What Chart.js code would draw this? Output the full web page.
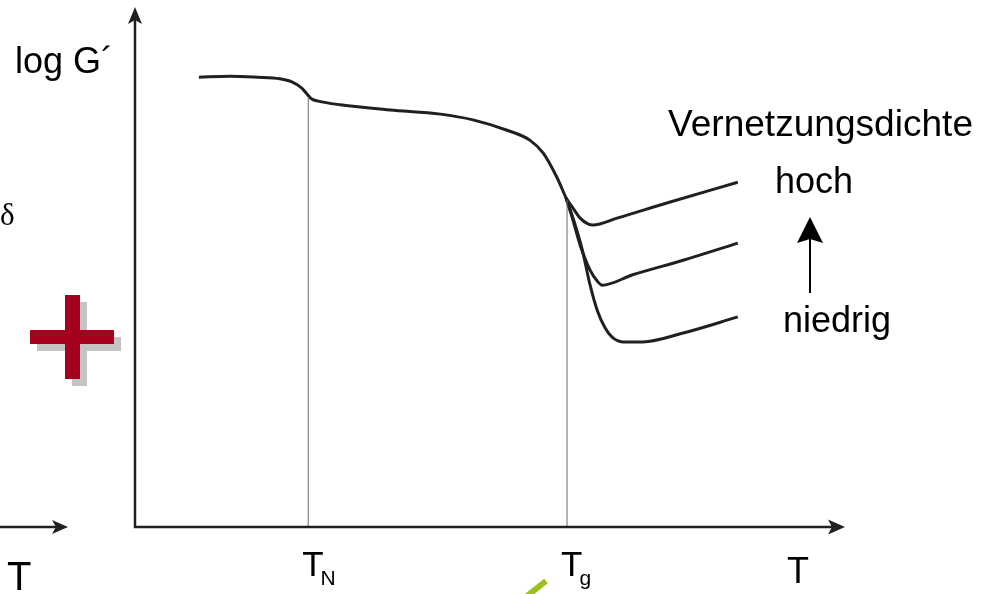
<!DOCTYPE html>
<html>
<head>
<meta charset="utf-8">
<script src="https://cdn.jsdelivr.net/npm/chart.js@4/dist/chart.umd.min.js"></script>
<style>
  html, body { margin: 0; padding: 0; background: #fff; }
  canvas { display: block; }
</style>
</head>
<body>
<canvas id="modulusChart" width="994" height="594"></canvas>
<script>
// temperature (arbitrary units) and log G' (arbitrary units)
const mainT = [9.0, 13.4, 17.2, 20.4, 22.1, 23.5, 24.2, 24.9, 25.8, 28.9, 35.9, 43.0, 47.6, 52.4, 55.6, 57.5, 59.4, 60.7];
const mainG = [86.5, 86.7, 86.5, 86.2, 85.6, 84.4, 83.3, 82.3, 81.9, 81.2, 80.2, 79.4, 78.3, 76.3, 74.4, 71.9, 67.3, 63.3];

const hochT = [60.7, 61.6, 62.7, 63.8, 64.5, 67.9, 74.9, 84.9];
const hochG = [63.3, 61.5, 59.4, 58.3, 58.1, 59.4, 62.3, 66.3];

const mittelT = [60.7, 61.6, 62.7, 64.1, 65.1, 65.8, 70.1, 77.2, 84.9];
const mittelG = [63.3, 59.4, 54.2, 49.4, 47.3, 46.5, 48.5, 51.3, 54.6];

const niedrigT = [60.7, 61.7, 63.0, 64.1, 65.1, 66.2, 67.2, 68.7, 71.5, 77.2, 84.9];
const niedrigG = [63.3, 59.4, 53.3, 46.5, 41.7, 38.3, 36.5, 35.6, 35.6, 37.3, 40.4];

// transition temperatures and where the guide lines meet the curve
const transLabels = ["N", "g"];
const transT = [24.4, 60.85];
const transG = [82.7, 62.9];

const toPoints = (xs, ys) => xs.map((x, i) => ({ x: x, y: ys[i] }));

const curveStyle = {
  borderColor: "#231f20",
  borderWidth: 3,
  pointRadius: 0,
  fill: false,
  cubicInterpolationMode: "monotone",
};

const guideSets = transT.map((t, i) => ({
  data: [{ x: t, y: 0 }, { x: t, y: transG[i] }],
  borderColor: "#6d6a6a",
  borderWidth: 1,
  pointRadius: 0,
  fill: false,
}));

function arrowHead(ctx, x, y, dir, len, half) {
  ctx.beginPath();
  if (dir === "up") {
    ctx.moveTo(x, y);
    ctx.lineTo(x - half, y + len);
    ctx.lineTo(x, y + len - 4);
    ctx.lineTo(x + half, y + len);
  } else {
    ctx.moveTo(x, y);
    ctx.lineTo(x - len, y - half);
    ctx.lineTo(x - len + 4, y);
    ctx.lineTo(x - len, y + half);
  }
  ctx.closePath();
  ctx.fill();
}

function fitText(ctx, text, x, y, size, width) {
  ctx.save();
  ctx.font = size + "px 'Liberation Sans', Arial, sans-serif";
  const w = ctx.measureText(text).width;
  ctx.translate(x, y);
  ctx.scale(width / w, 1);
  ctx.fillText(text, 0, 0);
  ctx.restore();
}

const decorations = {
  id: "decorations",
  afterDatasetsDraw(chart) {
    const ctx = chart.ctx;
    const area = chart.chartArea;
    const xs = chart.scales.x;
    ctx.save();
    ctx.fillStyle = "#231f20";
    ctx.strokeStyle = "#231f20";

    // axes with arrows
    ctx.lineWidth = 2.5;
    ctx.beginPath();
    ctx.moveTo(area.left, area.top + 10);
    ctx.lineTo(area.left, area.bottom);
    ctx.lineTo(area.right - 10, area.bottom);
    ctx.stroke();
    arrowHead(ctx, area.left, area.top, "up", 17, 7);
    arrowHead(ctx, area.right, area.bottom, "right", 17, 7.5);

    // partial neighbouring axis on the left
    ctx.beginPath();
    ctx.moveTo(0, area.bottom);
    ctx.lineTo(58, area.bottom);
    ctx.stroke();
    arrowHead(ctx, 68, area.bottom, "right", 16, 7);

    ctx.fillStyle = "#000";
    ctx.textBaseline = "alphabetic";
    ctx.textAlign = "left";
    ctx.font = "36px 'Liberation Sans', Arial, sans-serif";
    ctx.fillText("log G\u00b4", 15, 73);
    fitText(ctx, "hoch", 775, 193, 37, 78);
    ctx.fillText("niedrig", 783, 332);
    ctx.fillText("T", 787, 583);
    ctx.font = "40px 'Liberation Sans', Arial, sans-serif";
    ctx.fillText("T", 7, 590);
    fitText(ctx, "Vernetzungsdichte", 668, 136, 36, 305);

    // transition labels with subscripts
    transT.forEach((t, i) => {
      const px = xs.getPixelForValue(t) - 6;
      ctx.font = "35px 'Liberation Sans', Arial, sans-serif";
      ctx.fillText("T", px, 576);
      const tw = ctx.measureText("T").width;
      ctx.font = "21px 'Liberation Sans', Arial, sans-serif";
      ctx.fillText(transLabels[i], px + tw - 3, 585);
    });

    // density arrow
    ctx.fillStyle = "#000";
    ctx.strokeStyle = "#000";
    ctx.lineWidth = 2;
    ctx.beginPath();
    ctx.moveTo(810, 293);
    ctx.lineTo(810, 235);
    ctx.stroke();
    arrowHead(ctx, 810, 217, "up", 26, 13);

    // delta from neighbouring panel
    ctx.font = "31px 'Liberation Serif', 'Times New Roman', serif";
    ctx.fillText("\u03b4", 0, 225);

    // red plus with shadow
    const plus = (dx, dy, col) => {
      ctx.fillStyle = col;
      ctx.fillRect(65 + dx, 295 + dy, 15, 84);
      ctx.fillRect(30 + dx, 330 + dy, 84, 14);
    };
    plus(7, 7, "#c4c4c4");
    plus(0, 0, "#a5001e");

    // green stroke at the bottom
    ctx.strokeStyle = "#99c21a";
    ctx.lineWidth = 6;
    ctx.beginPath();
    ctx.moveTo(527, 596);
    ctx.lineTo(546, 581);
    ctx.stroke();

    ctx.restore();
  },
};

new Chart(document.getElementById("modulusChart").getContext("2d"), {
  type: "line",
  data: {
    datasets: [
      ...guideSets,
      { ...curveStyle, data: toPoints(mainT, mainG) },
      { ...curveStyle, data: toPoints(hochT, hochG) },
      { ...curveStyle, data: toPoints(mittelT, mittelG) },
      { ...curveStyle, data: toPoints(niedrigT, niedrigG) },
    ],
  },
  options: {
    responsive: false,
    animation: false,
    layout: { padding: { left: 135, right: 149, top: 7, bottom: 67 } },
    scales: {
      x: { type: "linear", min: 0, max: 100, display: false },
      y: { type: "linear", min: 0, max: 100, display: false },
    },
    plugins: {
      legend: { display: false },
      tooltip: { enabled: false },
    },
  },
  plugins: [decorations],
});
</script>
</body>
</html>
